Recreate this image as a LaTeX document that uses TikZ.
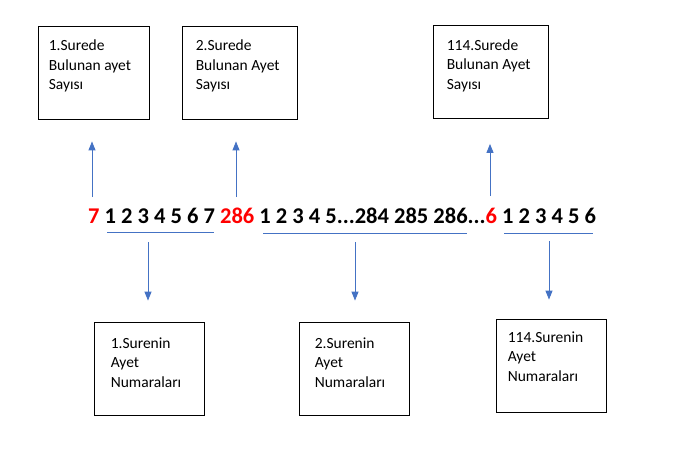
\documentclass[tikz,border=0pt]{standalone}
\usepackage{fontspec}
\setmainfont{Carlito}
\usepackage{xcolor}
\usepackage{tikz}
\usetikzlibrary{arrows.meta,positioning,calc}
\definecolor{ofisblue}{HTML}{4472C4}

\begin{document}
\begin{tikzpicture}[x=1pt,y=-1pt,
  kutu/.style={draw,line width=0.8pt,minimum width=110pt,minimum height=93pt,inner sep=0pt},
  kutuyazi/.style={anchor=north west,align=left,inner sep=0pt,font=\fontsize{15.5}{19.5}\selectfont},
  ok/.style={ofisblue,line width=0.9pt,-{Triangle[width=7pt,length=9pt]}},
  cizgi/.style={ofisblue,line width=0.9pt}]
\useasboundingbox (0,0) rectangle (680,448);
% Top boxes
\node[kutu,minimum width=111pt] (ust1) at (93.5,72.5) {};
\node[kutu,minimum width=115pt] (ust2) at (239.5,72.5) {};
\node[kutu,minimum width=115pt] (ust3) at (490.5,72) {};
\node[kutuyazi] (ust1y) at ([shift={(11,14)}]ust1.north west) {1.Surede\\Bulunan ayet\\Sayısı};
\node[kutuyazi] (ust2y) at ([shift={(14,14)}]ust2.north west) {2.Surede\\Bulunan Ayet\\Sayısı};
\node[kutuyazi] (ust3y) at ([shift={(14,14)}]ust3.north west) {114.Surede\\Bulunan Ayet\\Sayısı};
% Bottom boxes
\node[kutu] (alt1) at (149,368.5) {};
\node[kutu] (alt2) at (354,368.5) {};
\node[kutu] (alt3) at (551,365.5) {};
\node[kutuyazi] (alt1y) at ([shift={(17,16)}]alt1.north west) {1.Surenin\\Ayet\\Numaraları};
\node[kutuyazi] (alt2y) at ([shift={(16,16)}]alt2.north west) {2.Surenin\\Ayet\\Numaraları};
\node[kutuyazi] (alt3y) at ([shift={(12,13)}]alt3.north west) {114.Surenin\\Ayet\\Numaraları};
% Number row
\node[anchor=base west,inner sep=0pt,font=\fontsize{22.5}{27}\selectfont\bfseries] (dizi) at (88,223)
  {{\color{red}7} 1 2 3 4 5 6 7 {\color{red}286} 1 2 3 4 5...284 285 286...{\color{red}6} 1 2 3 4 5 6};
% Underlines
\draw[cizgi] (107,232) -- (214,232);
\draw[cizgi] (263,233) -- (467,233);
\draw[cizgi] (504,233) -- (593,233);
% Arrows up
\coordinate (yukari1) at (92,197);
\coordinate (yukari2) at (236,197);
\coordinate (yukari3) at (490,196);
\draw[ok,shorten >=22pt] (yukari1) -- (yukari1 |- ust1.south);
\draw[ok,shorten >=22pt] (yukari2) -- (yukari2 |- ust2.south);
\draw[ok,shorten >=25pt] (yukari3) -- (yukari3 |- ust3.south);
% Arrows down
\coordinate (asagi1) at (148,242);
\coordinate (asagi2) at (355,242);
\coordinate (asagi3) at (549,241);
\draw[ok,shorten >=21pt] (asagi1) -- (asagi1 |- alt1.north);
\draw[ok,shorten >=21pt] (asagi2) -- (asagi2 |- alt2.north);
\draw[ok,shorten >=19pt] (asagi3) -- (asagi3 |- alt3.north);
\end{tikzpicture}
\end{document}
